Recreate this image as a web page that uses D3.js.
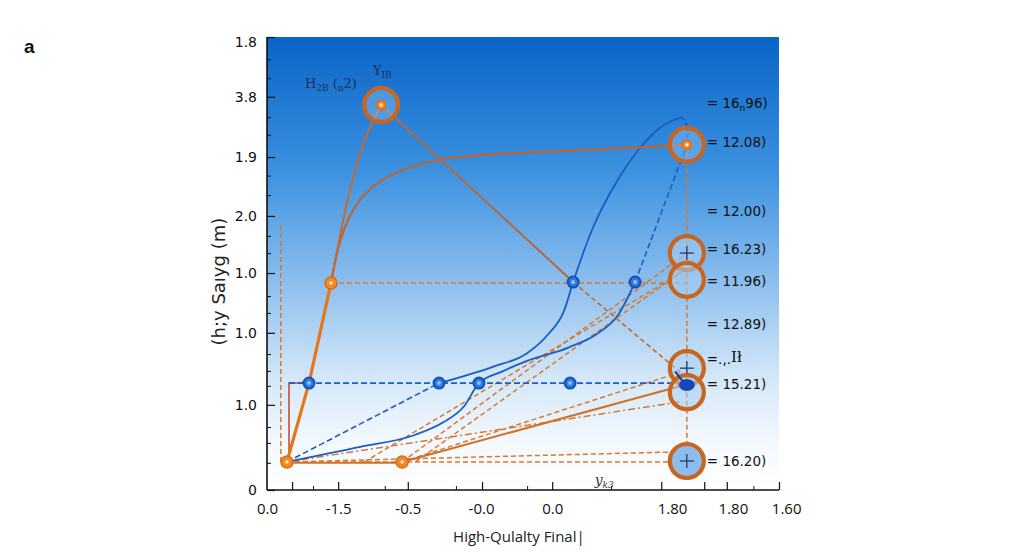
<!DOCTYPE html>
<html>
<head>
<meta charset="utf-8">
<script src="https://cdn.jsdelivr.net/npm/d3@7"></script>
<style>
  body { margin: 0; background: #fff; }
  svg { display: block; }
</style>
</head>
<body>
<div id="chart"></div>
<script>
// ---- data (abstract plot units, 0..10 on both axes) ----
var xTickLabels = ["0.0", "-1.5", "-0.5", "-0.0", "0.0", "1.80", "1.80", "1.60"];
var xTickPos = [0, 1.39, 2.75, 4.18, 5.57, 7.91, 9.10, 10.14];
var xMajorTicks = [0.49, 1.39, 2.75, 4.2, 5.57, 7.7, 8.54, 8.98, 10];
var xMinorTicks = [0.9, 2.3, 3.69, 5.08, 6.72, 9.5];

var yTickLabels = ["0", "1.0", "1.0", "1.0", "2.0", "1.9", "3.8", "1.8"];
var yTickPos = [0, 1.88, 3.47, 4.79, 6.05, 7.35, 8.68, 10];
var yMinorTicks = [0.6, 1.04, 1.39, 2.3, 2.63, 3.0, 3.91, 4.28, 5.23, 5.61, 6.51, 6.94, 7.84, 8.23, 9.09, 9.51];

var orangePoints = [[0.39, 0.62], [2.64, 0.62], [1.25, 4.57], [2.23, 8.5], [8.2, 7.62]];
var bluePoints = [[0.82, 2.36], [3.36, 2.36], [4.14, 2.36], [5.92, 2.36], [5.98, 4.59], [7.19, 4.59]];
var rings = [[2.23, 8.5], [8.2, 7.62], [8.2, 5.23], [8.2, 4.64], [8.2, 2.69], [8.2, 2.16], [8.2, 0.64]];
var ringPlus = [false, false, true, false, true, false, true];

var thickOrange = [[0.39, 0.62], [0.82, 2.36], [1.25, 4.57]];
var orangeToE = [[1.25, 4.57], [1.62, 6.62], [1.91, 7.73], [2.23, 8.5]];
var orangeToF = [[1.25, 4.57], [1.4, 5.5], [1.75, 6.45], [2.4, 7.0], [3.3, 7.32], [4.5, 7.43], [6.2, 7.5], [8.2, 7.62]];
var eDiagonal = [[2.23, 8.5], [5.98, 4.59]];
var eDiagonalDashed = [[5.98, 4.59], [8.07, 2.6]];

var blueCurve1 = [[0.39, 0.62], [1.82, 0.95], [2.9, 1.22], [3.45, 1.5], [3.85, 1.85], [4.14, 2.36], [4.6, 2.62],
                  [5.08, 2.85], [5.9, 3.15], [6.45, 3.45], [6.85, 3.85], [7.19, 4.59]];
var blueCurve2 = [[3.36, 2.36], [4.41, 2.72], [5.08, 3.02], [5.5, 3.45], [5.8, 3.95], [5.98, 4.59],
                  [6.37, 5.8], [6.8, 6.75], [7.25, 7.5], [7.7, 8.02], [8.1, 8.23]];
var blueHook = [[8.1, 8.23], [8.2, 8.05], [8.2, 7.62]];
var blueDashed = [
  [[0.39, 0.62], [3.36, 2.36]],
  [[0.39, 0.62], [0.82, 2.36]],
  [[7.19, 4.59], [8.2, 7.62]],
  [[0.43, 2.36], [8.2, 2.36]]
];
var redStep = [[0.43, 0.62], [0.43, 2.36], [0.82, 2.36]];

var orangeDashed = [
  [[0.27, 0.62], [0.27, 5.92]],
  [[1.25, 4.57], [8.2, 4.57]],
  [[8.2, 7.62], [8.2, 0.64]],
  [[0.39, 0.62], [8.07, 0.62]],
  [[0.39, 0.62], [7.97, 0.84]],
  [[2.64, 0.62], [8.2, 5.23]],
  [[2.9, 0.62], [8.2, 4.9]],
  [[1.9, 0.62], [8.1, 4.8]],
  [[2.64, 0.62], [8.07, 2.6]],
  [[0.39, 0.62], [8.1, 1.95]]
];
var orangeSolidFan = [[[2.64, 0.62], [8.1, 2.3]], [[0.39, 0.6], [2.64, 0.6]]];

var rightLabels = [
  {y: 8.54, pre: "= 16", sub: "n", post: "96)"},
  {y: 7.68, pre: "= 12.08)"},
  {y: 6.16, pre: "= 12.00)"},
  {y: 5.32, pre: "= 16.23)"},
  {y: 4.61, pre: "= 11.96)"},
  {y: 3.66, pre: "= 12.89)"},
  {y: 2.89, pre: "=.,.", serif: "I\u0142"},
  {y: 2.34, pre: "= 15.21)"},
  {y: 0.64, pre: "= 16.20)"}
];
var rightLabelX = 8.59;

// ---- layout ----
var W = 1024, H = 559;
var margin = {top: 37, right: 245, bottom: 69, left: 267};
var width = W - margin.left - margin.right,
    height = H - margin.top - margin.bottom;

var svg = d3.select("#chart").append("svg")
    .attr("width", W)
    .attr("height", H)
    .style("font-family", "'DejaVu Sans', sans-serif");

var g = svg.append("g")
    .attr("transform", "translate(" + margin.left + "," + margin.top + ")");

var x = d3.scaleLinear().domain([0, 10]).range([0, width]);
var y = d3.scaleLinear().domain([0, 10]).range([height, 0]);

// background gradient
var defs = svg.append("defs");
var grad = defs.append("linearGradient").attr("id", "bg")
    .attr("x1", 0).attr("y1", 0).attr("x2", 0).attr("y2", 1);
[["0%", "#0864c6"], ["30%", "#3d92e0"], ["55%", "#8fc0ee"], ["75%", "#d3e7f8"], ["90%", "#f4f9fe"], ["100%", "#ffffff"]]
  .forEach(function(s) { grad.append("stop").attr("offset", s[0]).attr("stop-color", s[1]); });

g.append("rect")
    .attr("x", 0).attr("y", 0)
    .attr("width", width).attr("height", height)
    .attr("fill", "url(#bg)");

var line = d3.line().x(function(d) { return x(d[0]); }).y(function(d) { return y(d[1]); });
var smooth = d3.line().curve(d3.curveMonotoneX)
    .x(function(d) { return x(d[0]); }).y(function(d) { return y(d[1]); });
var smoothE = d3.line().curve(d3.curveCatmullRom.alpha(0.5))
    .x(function(d) { return x(d[0]); }).y(function(d) { return y(d[1]); });
var basis = d3.line().curve(d3.curveBasis)
    .x(function(d) { return x(d[0]); }).y(function(d) { return y(d[1]); });

// dashed orange guides and fan
g.selectAll(".odash").data(orangeDashed).enter().append("path")
    .attr("d", line)
    .attr("fill", "none")
    .attr("stroke", "#d9782c")
    .attr("stroke-width", 1.5)
    .attr("stroke-dasharray", function(d, i) { return i == 9 ? "7,3,2,3" : "5,3"; });

g.selectAll(".ofan").data(orangeSolidFan).enter().append("path")
    .attr("d", line)
    .attr("fill", "none")
    .attr("stroke", "#d46f24")
    .attr("stroke-width", 2);

// red step
g.append("path").attr("d", line(redStep))
    .attr("fill", "none").attr("stroke", "#c8402a").attr("stroke-width", 1.5);

// blue dashed
g.selectAll(".bdash").data(blueDashed).enter().append("path")
    .attr("d", line)
    .attr("fill", "none")
    .attr("stroke", "#1e5cc6")
    .attr("stroke-width", 1.6)
    .attr("stroke-dasharray", "6,3");

// blue curves
g.append("path").attr("d", smooth(blueCurve1))
    .attr("fill", "none").attr("stroke", "#1b5cc4").attr("stroke-width", 1.8);
g.append("path").attr("d", smooth(blueCurve2))
    .attr("fill", "none").attr("stroke", "#1b5cc4").attr("stroke-width", 1.8);
g.append("path").attr("d", smoothE(blueHook))
    .attr("fill", "none").attr("stroke", "#1b5cc4").attr("stroke-width", 1.8)
    .attr("stroke-dasharray", "4,2");

// orange solid lines
g.append("path").attr("d", basis(orangeToF))
    .attr("fill", "none").attr("stroke", "#bb6532").attr("stroke-width", 2.2);
g.append("path").attr("d", smoothE(orangeToE))
    .attr("fill", "none").attr("stroke", "#c26a34").attr("stroke-width", 2);
g.append("path").attr("d", line(eDiagonal))
    .attr("fill", "none").attr("stroke", "#b5683e").attr("stroke-width", 2);
g.append("path").attr("d", line(eDiagonalDashed))
    .attr("fill", "none").attr("stroke", "#c26a34").attr("stroke-width", 1.6)
    .attr("stroke-dasharray", "5,3");
g.append("path").attr("d", line(thickOrange))
    .attr("fill", "none").attr("stroke", "#e6761c").attr("stroke-width", 3.2);

// rings
var ringG = g.selectAll(".ring").data(rings).enter().append("g")
    .attr("transform", function(d) { return "translate(" + x(d[0]) + "," + y(d[1]) + ")"; });
ringG.append("circle")
    .attr("r", 17)
    .attr("fill", function(d, i) { return i == 6 ? "#8dbdee" : "#a9d0f4"; })
    .attr("fill-opacity", function(d, i) { return i == 6 ? 1 : (i < 2 ? 0.35 : 0.55); })
    .attr("stroke", "#c8651f")
    .attr("stroke-width", 4.2);
ringG.filter(function(d, i) { return ringPlus[i]; }).each(function(d, i) {
  var s = d3.select(this);
  s.append("line").attr("x1", -7).attr("x2", 7).attr("y1", 0).attr("y2", 0)
    .attr("stroke", "#1b2f5c").attr("stroke-width", 1.2);
  s.append("line").attr("x1", 0).attr("x2", 0).attr("y1", -7).attr("y2", 7)
    .attr("stroke", "#1b2f5c").attr("stroke-width", 1.2);
});

// dark blue blob in the right column
g.append("ellipse")
    .attr("cx", x(8.2)).attr("cy", y(2.32))
    .attr("rx", 8).attr("ry", 6)
    .attr("fill", "#1848b8");
g.append("line")
    .attr("x1", x(7.97)).attr("y1", y(2.62))
    .attr("x2", x(8.12)).attr("y2", y(2.4))
    .attr("stroke", "#1a3f9a").attr("stroke-width", 2);

// points
var bp = g.selectAll(".bp").data(bluePoints).enter().append("g")
    .attr("transform", function(d) { return "translate(" + x(d[0]) + "," + y(d[1]) + ")"; });
bp.append("circle").attr("r", 5.5).attr("fill", "#2d7be0").attr("stroke", "#1650b5").attr("stroke-width", 2);
bp.append("circle").attr("r", 2).attr("fill", "#8fc2f7");

var op = g.selectAll(".op").data(orangePoints).enter().append("g")
    .attr("transform", function(d) { return "translate(" + x(d[0]) + "," + y(d[1]) + ")"; });
op.append("circle").attr("r", function(d, i) { return i > 2 ? 4.5 : 6; })
    .attr("fill", "#f08a26").attr("stroke", "#dc6c14").attr("stroke-width", 1.5);
op.append("circle").attr("r", 1.8).attr("fill", "#fde3c4");

// axes
var axisColor = "#111";
var xAxisLabels = g.append("g").attr("transform", "translate(0," + height + ")")
    .call(d3.axisBottom(x).tickValues(xTickPos).tickSize(0).tickPadding(13)
      .tickFormat(function(d, i) { return xTickLabels[i]; }));
xAxisLabels.select(".domain").remove();
xAxisLabels.selectAll("text").attr("font-family", "'Open Sans', sans-serif").attr("font-size", 15).attr("fill", "#111");

var xMaj = g.append("g").attr("transform", "translate(0," + height + ")")
    .call(d3.axisBottom(x).tickValues(xMajorTicks).tickSize(-8).tickFormat(""));
xMaj.select(".domain").attr("stroke", axisColor).attr("stroke-width", 1.6).attr("d", "M0,0H" + width);
xMaj.selectAll("line").attr("stroke", axisColor).attr("stroke-width", 1.2);
var xMin = g.append("g").attr("transform", "translate(0," + height + ")")
    .call(d3.axisBottom(x).tickValues(xMinorTicks).tickSize(-4).tickFormat(""));
xMin.select(".domain").remove();
xMin.selectAll("line").attr("stroke", axisColor);

var yAxisLabels = g.append("g")
    .call(d3.axisLeft(y).tickValues(yTickPos).tickSize(0).tickPadding(10)
      .tickFormat(function(d, i) { return yTickLabels[i]; }));
yAxisLabels.select(".domain").remove();
yAxisLabels.selectAll("text").attr("font-family", "'DejaVu Sans', sans-serif").attr("font-size", 14).attr("fill", "#111");
yAxisLabels.selectAll(".tick text").filter(function(d, i) { return i == 7; }).attr("dy", "0.7em");

var yMaj = g.append("g")
    .call(d3.axisLeft(y).tickValues(yTickPos).tickSize(-8).tickFormat(""));
yMaj.select(".domain").attr("stroke", axisColor).attr("stroke-width", 1.6).attr("d", "M0,0V" + height);
yMaj.selectAll("line").attr("stroke", axisColor).attr("stroke-width", 1.2);
var yMin = g.append("g")
    .call(d3.axisLeft(y).tickValues(yMinorTicks).tickSize(-4).tickFormat(""));
yMin.select(".domain").remove();
yMin.selectAll("line").attr("stroke", axisColor);

// right-hand labels
var rl = g.selectAll(".rl").data(rightLabels).enter().append("text")
    .attr("x", x(rightLabelX))
    .attr("y", function(d) { return y(d.y); })
    .attr("dy", "0.35em")
    .attr("font-size", 13.5)
    .attr("fill", "#111");
rl.each(function(d) {
  var t = d3.select(this);
  t.append("tspan").text(d.pre);
  if (d.sub) {
    t.append("tspan").attr("font-size", 9).attr("dy", 3).text(d.sub);
    t.append("tspan").attr("dy", -3).text(d.post);
  }
  if (d.serif) {
    t.append("tspan").attr("font-family", "'DejaVu Serif', serif").attr("font-size", 15).attr("dy", -2).text(d.serif);
  }
});

// annotations
var ann = g.append("text")
    .attr("x", x(0.74)).attr("y", y(8.87))
    .attr("font-family", "'DejaVu Serif', serif")
    .attr("font-size", 13).attr("fill", "#1c2d55");
ann.append("tspan").text("H");
ann.append("tspan").attr("font-size", 9).attr("dy", 3).text("2B");
ann.append("tspan").attr("dy", -3).text(" (");
ann.append("tspan").attr("font-size", 9).attr("dy", 3).text("n");
ann.append("tspan").attr("dy", -3).text("2)");

var ann2 = g.append("text")
    .attr("x", x(2.07)).attr("y", y(9.16))
    .attr("font-family", "'DejaVu Serif', serif")
    .attr("font-size", 13).attr("fill", "#1c2d55");
ann2.append("tspan").text("Y");
ann2.append("tspan").attr("font-size", 9).attr("dy", 3).text("IB");

var ann3 = g.append("text")
    .attr("x", x(6.4)).attr("y", y(0.11))
    .attr("font-family", "'DejaVu Serif', serif")
    .attr("font-style", "italic")
    .attr("font-size", 14).attr("fill", "#333");
ann3.append("tspan").text("y");
ann3.append("tspan").attr("font-size", 9).attr("dy", 3).text("k3");

// axis titles
svg.append("text")
    .attr("transform", "translate(219," + (margin.top + y(4.6)) + ") rotate(-90)")
    .attr("text-anchor", "middle")
    .attr("dy", "0.35em")
    .attr("font-size", 18)
    .attr("fill", "#222")
    .text("(h;y Saıyg (m)");

svg.append("text")
    .attr("x", margin.left + x(4.92))
    .attr("y", 542)
    .attr("text-anchor", "middle")
    .attr("font-family", "'Open Sans', sans-serif")
    .attr("font-size", 15)
    .attr("fill", "#222")
    .text("High-Qulalty Final|");

svg.append("text")
    .attr("x", 24).attr("y", 53)
    .attr("font-family", "'Liberation Sans', Arial, sans-serif")
    .attr("font-weight", "bold")
    .attr("font-size", 19)
    .attr("fill", "#111")
    .text("a");
</script>
</body>
</html>
